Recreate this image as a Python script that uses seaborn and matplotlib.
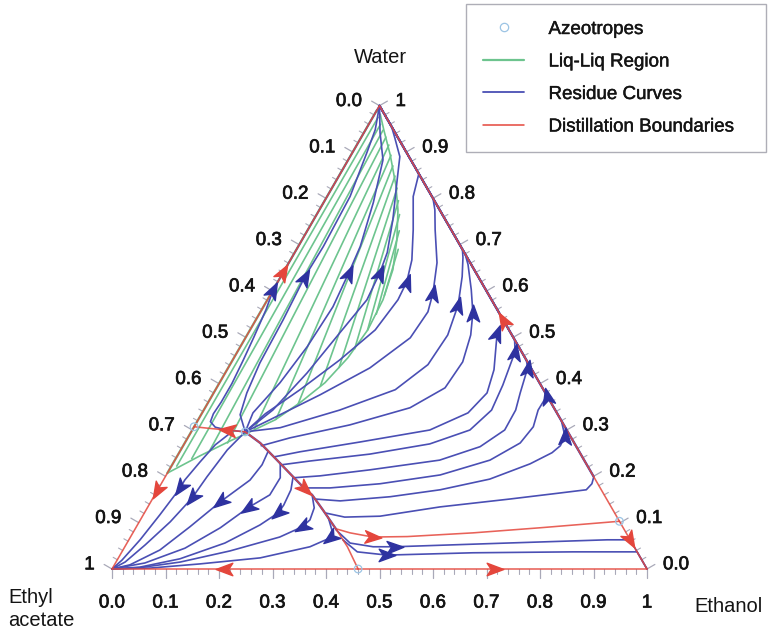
import numpy as np
import pandas as pd
import matplotlib
matplotlib.use("Agg")
import matplotlib.pyplot as plt
import seaborn as sns
from matplotlib.path import Path
from matplotlib.markers import MarkerStyle
from matplotlib.transforms import Affine2D
from matplotlib.lines import Line2D
import matplotlib.patheffects as pe

sns.set_theme(style="white")
plt.rcParams["font.family"] = ["Liberation Sans", "DejaVu Sans"]

# ---------------- data: compositions (x_Ethanol, x_Water) ----------------
components = ["Ethyl\nacetate", "Ethanol", "Water"]
tick_labels = ["0.0", "0.1", "0.2", "0.3", "0.4", "0.5", "0.6", "0.7", "0.8", "0.9", "1"]
legend_labels = ["Azeotropes", "Liq-Liq Region", "Residue Curves", "Distillation Boundaries"]

az_etoh = [0.101, 0.0, 0.46, 0.897]
az_water = [0.296, 0.307, 0.0, 0.103]

# distillation boundaries (ordered along arrow direction)
bd1 = [(0.101, 0.296), (0.065, 0.300), (0.035, 0.303), (0.0, 0.307)]
bd2 = [(0.101, 0.296), (0.141, 0.272), (0.191, 0.235), (0.239, 0.199), (0.274, 0.173),
       (0.294, 0.160), (0.331, 0.127), (0.378, 0.084), (0.416, 0.048), (0.46, 0.0)]
bd3 = [(0.378, 0.086), (0.406, 0.078), (0.453, 0.069), (0.517, 0.070), (0.636, 0.078),
       (0.756, 0.089), (0.897, 0.103)]
edge_bottom_l = [(0.46, 0.0), (0.21, 0.0), (0.0, 0.0)]
edge_bottom_r = [(0.46, 0.0), (0.716, 0.0), (1.0, 0.0)]
edge_left_lo = [(0.0, 0.307), (0.0, 0.168), (0.0, 0.0)]
edge_left_up = [(0.0, 0.307), (0.0, 0.641), (0.0, 1.0)]
edge_right_up = [(0.897, 0.103), (0.462, 0.538), (0.0, 1.0)]
edge_right_lo = [(0.897, 0.103), (0.937, 0.063), (1.0, 0.0)]

# liquid-liquid envelope and tie lines
binodal = [(0.0, 0.207), (0.042, 0.244), (0.082, 0.276), (0.110, 0.296), (0.144, 0.322),
           (0.172, 0.359), (0.197, 0.402), (0.213, 0.456), (0.220, 0.516), (0.216, 0.581),
           (0.202, 0.646), (0.177, 0.711), (0.147, 0.775), (0.116, 0.829), (0.073, 0.894),
           (0.034, 0.948), (0.011, 0.981), (0.0, 0.99)]
tie_lo_etoh = [0.010, 0.030, 0.055, 0.080, 0.115, 0.145, 0.170, 0.192, 0.207, 0.216, 0.220, 0.219, 0.214]
tie_lo_water = [0.222, 0.238, 0.254, 0.272, 0.303, 0.323, 0.355, 0.395, 0.435, 0.475, 0.515, 0.550, 0.590]
tie_up_etoh = [0.010, 0.022, 0.033, 0.046, 0.060, 0.075, 0.090, 0.105, 0.122, 0.138, 0.155, 0.172, 0.190]
tie_up_water = [0.975, 0.960, 0.947, 0.932, 0.915, 0.893, 0.870, 0.848, 0.822, 0.795, 0.765, 0.730, 0.690]

# residue curves (ordered toward increasing temperature)
rc_u1 = [(0.338, 0.121), (0.379, 0.112), (0.444, 0.114), (0.546, 0.134), (0.668, 0.151),
         (0.755, 0.164), (0.801, 0.171), (0.805, 0.184), (0.801, 0.199), (0.0, 1.0)]
rc_u2 = [(0.304, 0.151), (0.353, 0.147), (0.442, 0.156), (0.528, 0.171), (0.609, 0.194),
         (0.668, 0.227), (0.697, 0.251), (0.705, 0.266), (0.703, 0.287), (0.68, 0.32), (0.0, 1.0)]
rc_u3 = [(0.273, 0.175), (0.320, 0.175), (0.409, 0.184), (0.512, 0.203), (0.589, 0.235),
         (0.627, 0.272), (0.634, 0.307), (0.625, 0.343), (0.626, 0.374), (0.55, 0.45), (0.0, 1.0)]
rc_u4 = [(0.242, 0.197), (0.288, 0.201), (0.375, 0.214), (0.495, 0.235), (0.556, 0.264),
         (0.584, 0.300), (0.583, 0.343), (0.573, 0.380), (0.560, 0.434), (0.549, 0.451), (0.0, 1.0)]
rc_u5 = [(0.205, 0.225), (0.253, 0.233), (0.358, 0.248), (0.459, 0.270), (0.519, 0.300),
         (0.538, 0.343), (0.532, 0.397), (0.524, 0.441), (0.519, 0.469), (0.505, 0.495), (0.0, 1.0)]
rc_u6 = [(0.182, 0.242), (0.225, 0.253), (0.326, 0.274), (0.444, 0.300), (0.497, 0.337),
         (0.511, 0.380), (0.499, 0.430), (0.476, 0.484), (0.465, 0.510), (0.467, 0.533), (0.0, 1.0)]
rc_u7 = [(0.146, 0.266), (0.191, 0.283), (0.289, 0.311), (0.383, 0.348), (0.427, 0.391),
         (0.432, 0.447), (0.418, 0.505), (0.398, 0.553), (0.370, 0.603), (0.337, 0.657),
         (0.32, 0.68), (0.0, 1.0)]
rc_u8 = [(0.101, 0.296), (0.162, 0.305), (0.254, 0.343), (0.336, 0.387), (0.370, 0.441),
         (0.375, 0.505), (0.362, 0.570), (0.339, 0.631), (0.320, 0.672), (0.31, 0.69), (0.0, 1.0)]
rc_u9 = [(0.101, 0.296), (0.134, 0.322), (0.201, 0.376), (0.265, 0.434), (0.308, 0.499),
         (0.313, 0.555), (0.302, 0.596), (0.277, 0.661), (0.238, 0.732), (0.216, 0.775),
         (0.2, 0.8), (0.0, 1.0)]
rc_u10 = [(0.101, 0.296), (0.119, 0.335), (0.158, 0.387), (0.200, 0.451), (0.234, 0.516),
          (0.244, 0.581), (0.241, 0.620), (0.227, 0.667), (0.197, 0.732), (0.161, 0.804),
          (0.147, 0.853), (0.0, 1.0)]
rc_u11 = [(0.101, 0.296), (0.129, 0.343), (0.153, 0.423), (0.171, 0.510), (0.186, 0.581),
          (0.181, 0.639), (0.173, 0.683), (0.148, 0.754), (0.113, 0.840), (0.093, 0.890),
          (0.063, 0.931), (0.045, 0.955), (0.0, 1.0)]
rc_u12 = [(0.101, 0.296), (0.095, 0.337), (0.113, 0.402), (0.125, 0.480), (0.130, 0.566),
          (0.123, 0.639), (0.116, 0.696), (0.093, 0.791), (0.065, 0.883), (0.030, 0.942), (0.0, 1.0)]
rc_u13 = [(0.101, 0.296), (0.073, 0.333), (0.062, 0.380), (0.054, 0.445), (0.051, 0.538),
          (0.045, 0.631), (0.047, 0.696), (0.043, 0.804), (0.027, 0.899), (0.018, 0.948), (0.0, 1.0)]
rc_l0 = [(0.101, 0.296), (0.065, 0.300), (0.040, 0.306), (0.025, 0.318), (0.022, 0.335),
         (0.024, 0.36), (0.024, 0.40), (0.020, 0.45), (0.015, 0.50), (0.008, 0.56),
         (0.0, 0.603), (0.0, 0.70), (0.0, 1.0)]
rc_ll1 = [(0.076, 0.296), (0.059, 0.268), (0.049, 0.231), (0.040, 0.192), (0.040, 0.175),
          (0.031, 0.117), (0.021, 0.063), (0.009, 0.019), (0.0, 0.0)]
rc_ll2 = [(0.101, 0.296), (0.087, 0.257), (0.078, 0.199), (0.073, 0.153), (0.058, 0.102),
          (0.036, 0.052), (0.017, 0.015), (0.0, 0.0)]
rc_ll3 = [(0.165, 0.253), (0.168, 0.225), (0.162, 0.192), (0.130, 0.145), (0.100, 0.091),
          (0.069, 0.041), (0.029, 0.009), (0.0, 0.0)]
rc_ll4 = [(0.200, 0.229), (0.216, 0.197), (0.215, 0.160), (0.188, 0.132), (0.158, 0.089),
          (0.114, 0.045), (0.055, 0.013), (0.0, 0.0)]
rc_ll5 = [(0.239, 0.199), (0.249, 0.171), (0.252, 0.138), (0.250, 0.121), (0.229, 0.095),
          (0.183, 0.056), (0.116, 0.022), (0.050, 0.004), (0.0, 0.0)]
rc_ll6 = [(0.294, 0.160), (0.312, 0.132), (0.317, 0.106), (0.310, 0.091), (0.279, 0.069),
          (0.201, 0.039), (0.120, 0.015), (0.051, 0.003), (0.0, 0.0)]
rc_ll7 = [(0.348, 0.112), (0.369, 0.084), (0.374, 0.067), (0.346, 0.048), (0.265, 0.024),
          (0.159, 0.011), (0.070, 0.002), (0.0, 0.0)]
rc_lr1 = [(0.380, 0.082), (0.417, 0.056), (0.464, 0.048), (0.505, 0.048), (0.710, 0.056),
          (0.894, 0.063), (0.937, 0.063), (1.0, 0.0)]
rc_lr2 = [(0.400, 0.063), (0.440, 0.037), (0.499, 0.030), (0.657, 0.035), (0.843, 0.037),
          (0.963, 0.037), (1.0, 0.0)]

# arrow vertex indices for each curve
residue = [(rc_u1, []), (rc_u2, [8]), (rc_u3, [8]), (rc_u4, [8]), (rc_u5, [8]), (rc_u6, [8]),
           (rc_u7, [7]), (rc_u8, [6]), (rc_u9, [6]), (rc_u10, [6]), (rc_u11, [5]),
           (rc_u12, [5]), (rc_u13, [5]), (rc_l0, [10]), (rc_ll1, [4]), (rc_ll2, [3]),
           (rc_ll3, [3]), (rc_ll4, [3]), (rc_ll5, [3]), (rc_ll6, [3]), (rc_ll7, [2]),
           (rc_lr1, [3]), (rc_lr2, [2])]
boundaries = [(bd1, [1]), (bd2, [4]), (bd3, [2]), (edge_bottom_l, [1]), (edge_bottom_r, [1]),
              (edge_left_lo, [1]), (edge_left_up, [1]), (edge_right_up, [1]), (edge_right_lo, [1])]

BLUE = "#4a4fb4"
BLUE_ARR = "#2e32a0"
RED = "#e4463c"
GREEN = "#6dc48e"
AZ = "#9cc4e4"
INK = "#141414"
H = np.sqrt(3) / 2
BOLDISH = [pe.withStroke(linewidth=0.5, foreground=INK)]


def cart(e, w):
    e = np.asarray(e, float)
    w = np.asarray(w, float)
    return e + 0.5 * w, H * w


def frame(curves, name):
    rows = []
    for k, pts in enumerate(curves):
        e, w = zip(*pts)
        x, y = cart(e, w)
        for i in range(len(x)):
            rows.append((f"{name}{k}", i, x[i], y[i]))
    return pd.DataFrame(rows, columns=["curve", "order", "x", "y"])


def arrowhead(ax, pts, i, color, size=12):
    e, w = zip(*pts)
    x, y = cart(e, w)
    a = max(i - 1, 0)
    b = min(i + 1, len(x) - 1)
    ang = np.degrees(np.arctan2(y[b] - y[a], x[b] - x[a]))
    verts = [(1.0, 0.0), (-1.0, 0.75), (-0.5, 0.0), (-1.0, -0.75), (1.0, 0.0)]
    codes = [Path.MOVETO, Path.LINETO, Path.LINETO, Path.LINETO, Path.CLOSEPOLY]
    m = MarkerStyle(Path(verts, codes), transform=Affine2D().rotate_deg(ang))
    ax.plot([x[i]], [y[i]], marker=m, ms=size, color=color, mec=color, ls="none", zorder=6)


fig = plt.figure(figsize=(7.7, 6.33), dpi=100)
ax = fig.add_axes([0, 0, 1, 1])
S = 535.0
ax.set_xlim(-112 / S, (770 - 112) / S)
ax.set_ylim((569 - 633) / S, 569 / S)
ax.axis("off")

# ticks
for j in range(51):
    v = j * 0.02
    major = j % 5 == 0
    L = 0.017 if major else 0.009
    col = "#a9a9b8"
    lw = 0.9 if major else 0.8
    ax.plot([v, v], [0, -L], color=col, lw=lw, zorder=1)
    px, py = cart(0.0, 1 - v)
    ax.plot([px, px - H * L], [py, py + 0.5 * L], color=col, lw=lw, zorder=1)
    px, py = cart(1 - v, v)
    ax.plot([px, px + H * L], [py, py + 0.5 * L], color=col, lw=lw, zorder=1)

for j, lab in enumerate(tick_labels):
    v = j / 10
    ax.annotate(lab, (v, 0), xytext=(0, -24.5), textcoords="offset points",
                ha="center", va="center", fontsize=13.5, color=INK, path_effects=BOLDISH)
    px, py = cart(0.0, 1 - v)
    ax.annotate(lab, (px, py), xytext=(-12.5, 3), textcoords="offset points",
                ha="right", va="center", fontsize=13.5, color=INK, path_effects=BOLDISH)
    px, py = cart(1 - v, v)
    ax.annotate(lab, (px, py), xytext=(11.5, 3), textcoords="offset points",
                ha="left", va="center", fontsize=13.5, color=INK, path_effects=BOLDISH)

# vertex labels
ax.text(0.501, (569 - 57) / S, components[2], ha="center", va="center", fontsize=14.5, color=INK)
ax.text(-104 / S, (569 - 609) / S, components[0], ha="left", va="center", fontsize=14.5,
        linespacing=1.3, color=INK)
ax.text((729 - 112) / S, (569 - 607) / S, components[1], ha="center", va="center",
        fontsize=14.5, color=INK)

# liquid-liquid region
tie_curves = [[(tie_lo_etoh[k], tie_lo_water[k]), (tie_up_etoh[k], tie_up_water[k])]
              for k in range(len(tie_lo_etoh))]
sns.lineplot(data=frame(tie_curves + [binodal], "ll"), x="x", y="y", units="curve",
             estimator=None, sort=False, color=GREEN, lw=1.2, ax=ax, legend=False, zorder=2)
sns.lineplot(data=frame([[(0.0, 0.207), (0.0, 0.99)]], "le"), x="x", y="y", units="curve",
             estimator=None, sort=False, color=GREEN, lw=1.7, ax=ax, legend=False, zorder=2)
sns.lineplot(data=frame([[(0.80, 0.20), (0.0, 1.0)], bd2[:8]], "be"), x="x", y="y",
             units="curve", estimator=None, sort=False, color=BLUE, lw=1.7, ax=ax,
             legend=False, zorder=3)

# residue curves
sns.lineplot(data=frame([c for c, _ in residue], "rc"), x="x", y="y", units="curve",
             estimator=None, sort=False, color=BLUE, lw=1.2, ax=ax, legend=False, zorder=3)

# boundaries and edges
sns.lineplot(data=frame([c for c, _ in boundaries], "bd"), x="x", y="y", units="curve",
             estimator=None, sort=False, color=RED, lw=1.15, alpha=0.85, ax=ax, legend=False,
             zorder=4)

for c, idx in residue:
    for i in idx:
        arrowhead(ax, c, i, BLUE_ARR)
for c, idx in boundaries:
    for i in idx:
        arrowhead(ax, c, i, RED)

# azeotropes
ax_x, ax_y = cart(az_etoh, az_water)
sns.scatterplot(x=ax_x, y=ax_y, marker="o", s=30, facecolors="none", edgecolor=AZ,
                linewidth=0.9, ax=ax, zorder=7, legend=False)

handles = [Line2D([], [], marker="o", ls="none", mfc="none", mec=AZ, ms=6, mew=0.9),
           Line2D([], [], color=GREEN, lw=1.6),
           Line2D([], [], color=BLUE, lw=1.3),
           Line2D([], [], color=RED, lw=1.1)]
leg = ax.legend(handles, legend_labels, loc="upper left",
                bbox_to_anchor=(466 / 770, 1 - 146 / 633, 300 / 770, 142 / 633),
                bbox_transform=fig.transFigure, mode="expand", fontsize=13.5, frameon=True,
                fancybox=False, borderpad=0.9, labelspacing=0.82, handlelength=2.2,
                handletextpad=1.3, borderaxespad=0)
leg.get_frame().set_edgecolor("#9a9aa5")
leg.get_frame().set_linewidth(1.0)
for t in leg.get_texts():
    t.set_color(INK)
    t.set_path_effects([pe.withStroke(linewidth=0.3, foreground=INK)])

fig.savefig("out.png", dpi=100)
